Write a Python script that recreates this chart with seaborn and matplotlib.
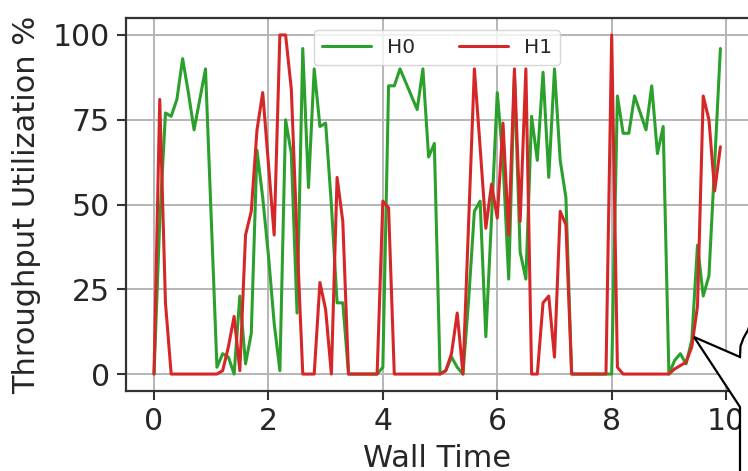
import numpy as np
import pandas as pd
import matplotlib
matplotlib.use("Agg")
import matplotlib.pyplot as plt
from matplotlib.patches import Polygon
import seaborn as sns

# ---- data ----
wall_time = [round(0.1 * i, 1) for i in range(100)]

h0 = [0, 45, 77, 76, 81, 93, 83, 72, 81, 90,
      46, 2, 6, 5, 0, 23, 3, 12, 66, 52,
      35, 15, 1, 75, 65, 18, 96, 55, 90, 73,
      74, 50, 21, 21, 0, 0, 0, 0, 0, 0,
      2, 85, 85, 90, 86, 82, 78, 90, 64, 68,
      0, 1, 5, 2, 0, 22, 48, 51, 11, 46,
      83, 63, 28, 88, 36, 28, 76, 63, 89, 58,
      90, 63, 52, 0, 0, 0, 0, 0, 0, 0,
      0, 82, 71, 71, 82, 77, 72, 85, 65, 73,
      0, 4, 6, 3, 10, 38, 23, 29, 62, 96]

h1 = [0, 81, 21, 0, 0, 0, 0, 0, 0, 0,
      0, 0, 1, 8, 17, 1, 41, 48, 72, 83,
      62, 41, 100, 100, 84, 40, 0, 0, 0, 27,
      19, 0, 58, 45, 0, 0, 0, 0, 0, 0,
      51, 49, 0, 0, 0, 0, 0, 0, 0, 0,
      0, 1, 6, 18, 0, 45, 90, 67, 43, 56,
      46, 74, 41, 90, 45, 90, 0, 0, 21, 23,
      5, 48, 44, 0, 0, 0, 0, 0, 0, 0,
      100, 2, 0, 0, 0, 0, 0, 0, 0, 0,
      0, 1.5, 2.5, 3.5, 8, 20, 82, 75, 54, 67]

series_names = ["H0", "H1"]
series_colors = {"H0": "#2ca02c", "H1": "#d62728"}
x_ticks = [0, 2, 4, 6, 8, 10]
y_ticks = [0, 25, 50, 75, 100]

df = pd.DataFrame({
    "Wall Time": wall_time * 2,
    "value": h0 + h1,
    "series": ["H0"] * len(h0) + ["H1"] * len(h1),
})

# ---- style ----
sns.set_style("ticks", {"axes.grid": True})
plt.rcParams["font.family"] = ["DejaVu Sans"]
text_color = "#262626"

W, H = 748, 471
fig = plt.figure(figsize=(W / 100, H / 100), dpi=100)
ax = fig.add_axes([125.7 / W, 80 / H, 623 / W, 373 / H])

sns.lineplot(data=df, x="Wall Time", y="value", hue="series",
             hue_order=series_names, palette=series_colors,
             estimator=None, linewidth=2.2, ax=ax)

ax.set_xticks(x_ticks)
ax.set_yticks(y_ticks)
ax.set_xlabel("Wall Time", fontsize=22, color=text_color, labelpad=6)
ax.set_ylabel("Throughput Utilization %", fontsize=22, color=text_color, labelpad=8)
ax.tick_params(axis="both", labelsize=21.5, length=6.5, width=1.5, pad=5,
               colors="#333333", labelcolor=text_color, direction="out")
ax.grid(True, color="#b5b5b5", linewidth=1.4)
for side in ["left", "bottom", "top"]:
    ax.spines[side].set_color("#333333")
    ax.spines[side].set_linewidth(1.6)
ax.spines["right"].set_visible(False)

sns.move_legend(ax, "upper center", ncol=2, title=None, frameon=True,
                fontsize=14.5, handlelength=2.4, columnspacing=2.2,
                handletextpad=0.8, borderaxespad=0.6)
leg = ax.get_legend()
leg.get_frame().set_edgecolor("#cccccc")
leg.get_frame().set_alpha(0.8)
for t in leg.get_texts():
    t.set_color(text_color)
for line in leg.get_lines():
    line.set_linewidth(2.2)

# ---- speech bubble overlay at the bottom right ----
bubble_px = [(752, 318), (748, 330), (743.5, 338), (740.5, 346), (740, 357),
             (694, 337), (740, 407), (740, 480), (760, 480), (760, 318)]
bubble = Polygon([(x / W, 1 - y / H) for x, y in bubble_px], closed=True,
                 transform=fig.transFigure, facecolor="white",
                 edgecolor="black", linewidth=1.6, zorder=10, clip_on=False,
                 joinstyle="miter")
fig.add_artist(bubble)

fig.savefig("out.png", dpi=100)
